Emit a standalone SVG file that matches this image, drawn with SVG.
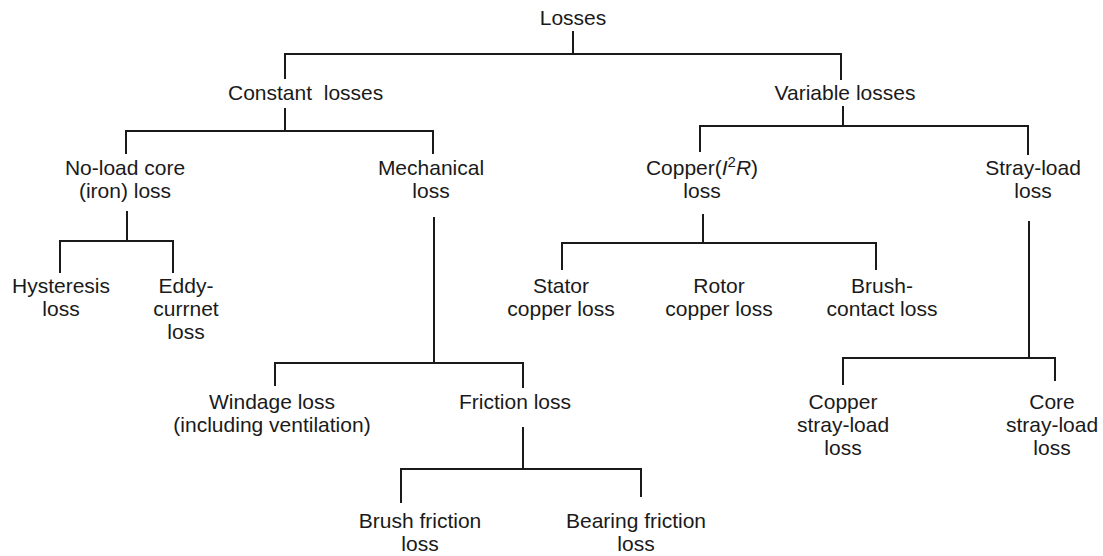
<svg xmlns="http://www.w3.org/2000/svg" width="1103" height="556" viewBox="0 0 1103 556">
<style>
text{font-family:"Liberation Sans",Arial,sans-serif;font-size:21px;fill:#1a1a1a;text-anchor:middle}
.c path{fill:none;stroke:#1a1a1a;stroke-width:2}
</style>
<rect width="1103" height="556" fill="#fff"/>
<g class="c" id="connectors">
<path d="M573 31V54M285 79V54H841V80"/>
<path d="M285 108V132M126 154V131H433V154"/>
<path d="M843 106V126M700 152V126H1028V155"/>
<path d="M127 211V241M60 273V241H173V273"/>
<path d="M434 217V363M275 386V363H523V388"/>
<path d="M523 427V469M401 503V469H641V497"/>
<path d="M703 214V243M562 270V243H876V270"/>
<path d="M1029 221V358M843 385V358H1055V381"/>
</g>
<g id="losses"><text x="573" y="25">Losses</text></g>
<g id="constant"><text x="228" y="100" style="text-anchor:start" xml:space="preserve">Constant  losses</text></g>
<g id="variable"><text x="845" y="100">Variable losses</text></g>
<g id="noload"><text x="125" y="175">No-load core</text><text x="125" y="198">(iron) loss</text></g>
<g id="mechanical"><text x="431" y="175">Mechanical</text><text x="431" y="198">loss</text></g>
<g id="copper"><text x="702" y="175">Copper(<tspan font-style="italic">I</tspan><tspan font-size="15" dy="-8">2</tspan><tspan font-style="italic" dy="8">R</tspan>)</text><text x="702" y="198">loss</text></g>
<g id="strayload"><text x="1033" y="175">Stray-load</text><text x="1033" y="198">loss</text></g>
<g id="hysteresis"><text x="61" y="293">Hysteresis</text><text x="61" y="316">loss</text></g>
<g id="eddy"><text x="186" y="293">Eddy-</text><text x="186" y="316">currnet</text><text x="186" y="339">loss</text></g>
<g id="stator"><text x="561" y="293">Stator</text><text x="561" y="316">copper loss</text></g>
<g id="rotor"><text x="719" y="293">Rotor</text><text x="719" y="316">copper loss</text></g>
<g id="brushcontact"><text x="882" y="293">Brush-</text><text x="882" y="316">contact loss</text></g>
<g id="windage"><text x="272" y="409">Windage loss</text><text x="272" y="432">(including ventilation)</text></g>
<g id="friction"><text x="515" y="409">Friction loss</text></g>
<g id="copperstray"><text x="843" y="409">Copper</text><text x="843" y="432">stray-load</text><text x="843" y="455">loss</text></g>
<g id="corestray"><text x="1052" y="409">Core</text><text x="1052" y="432">stray-load</text><text x="1052" y="455">loss</text></g>
<g id="brushfriction"><text x="420" y="528">Brush friction</text><text x="420" y="551">loss</text></g>
<g id="bearingfriction"><text x="636" y="528">Bearing friction</text><text x="636" y="551">loss</text></g>
</svg>
